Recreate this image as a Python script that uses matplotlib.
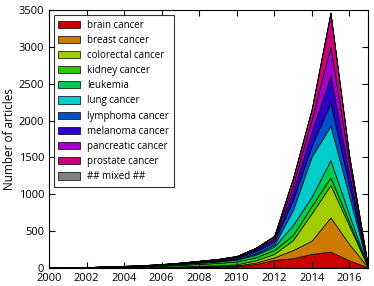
import matplotlib
matplotlib.use("Agg")
import matplotlib.pyplot as plt
import numpy as np
import colorsys

plt.rcParams["font.family"] = ["Open Sans", "DejaVu Sans"]
plt.rcParams["font.size"] = 8
plt.rcParams["xtick.direction"] = "in"
plt.rcParams["ytick.direction"] = "in"
plt.rcParams["xtick.top"] = True
plt.rcParams["ytick.right"] = True
plt.rcParams["xtick.major.size"] = 4
plt.rcParams["ytick.major.size"] = 4

years = list(range(2000, 2018))
labels = ["brain cancer", "breast cancer", "colorectal cancer", "kidney cancer",
          "leukemia", "lung cancer", "lymphoma cancer", "melanoma cancer",
          "pancreatic cancer", "prostate cancer", "## mixed ##"]

#         2000 01 02 03 04 05 06 07 08 09 10  11  12   13   14   15   16  17
brain      = [0, 0, 0, 1, 2, 3, 5, 7, 10, 12, 20, 50, 105, 130, 187, 218, 100, 3]
breast     = [0, 0, 0, 1, 1, 2, 3, 4, 6, 8, 10, 20, 36, 110, 181, 466, 220, 2]
colorectal = [0, 0, 1, 1, 2, 3, 5, 7, 10, 12, 15, 30, 46, 136, 373, 438, 250, 2]
kidney     = [0, 0, 3, 7, 9, 11, 15, 20, 25, 32, 40, 40, 54, 68, 100, 106, 50, 1]
leukemia   = [0, 0, 2, 4, 5, 7, 9, 12, 16, 20, 25, 35, 45, 137, 126, 234, 100, 1]
lung       = [0, 0, 0, 1, 1, 2, 3, 4, 6, 8, 10, 15, 23, 204, 545, 468, 250, 2]
lymphoma   = [0, 0, 1, 1, 2, 3, 4, 6, 8, 10, 15, 30, 45, 136, 150, 310, 150, 1]
melanoma   = [0, 0, 1, 1, 2, 2, 3, 5, 7, 9, 12, 25, 33, 114, 190, 367, 150, 1]
pancreatic = [0, 0, 0, 1, 1, 1, 2, 3, 5, 6, 8, 15, 27, 91, 165, 399, 150, 1]
prostate   = [0, 0, 0, 0, 0, 1, 1, 2, 2, 3, 5, 10, 18, 91, 140, 460, 100, 1]
mixed      = [0, 0, 0, 0, 0, 0, 0, 0, 0, 0, 0, 0, 2, 3, 5, 8, 3, 0]

series = [brain, breast, colorectal, kidney, leukemia, lung, lymphoma,
          melanoma, pancreatic, prostate, mixed]

colors = [colorsys.hsv_to_rgb(i / 10.0, 1.0, 0.8) for i in range(10)]
colors.append((0.5, 0.5, 0.5))

fig = plt.figure(figsize=(3.74, 2.86), dpi=100)
ax = fig.add_axes([0.131, 0.064, 0.853, 0.9])

ax.stackplot(years, *series, labels=labels, colors=colors,
             edgecolor="k", linewidth=0.5)

ax.set_xlim(2000, 2017)
ax.set_ylim(0, 3500)
ax.set_xticks(range(2000, 2017, 2))
ax.set_yticks(range(0, 3501, 500))
ax.set_ylabel("Number of articles", fontsize=8.5, labelpad=2)
ax.tick_params(axis="x", pad=4)

leg = ax.legend(loc="upper left", fontsize=7, fancybox=False,
                handlelength=2.2, handleheight=0.75, labelspacing=0.43,
                borderpad=0.45, handletextpad=0.8, borderaxespad=0.5)
leg.get_frame().set_edgecolor("k")
leg.get_frame().set_linewidth(0.8)

fig.savefig("out.png", dpi=100)
